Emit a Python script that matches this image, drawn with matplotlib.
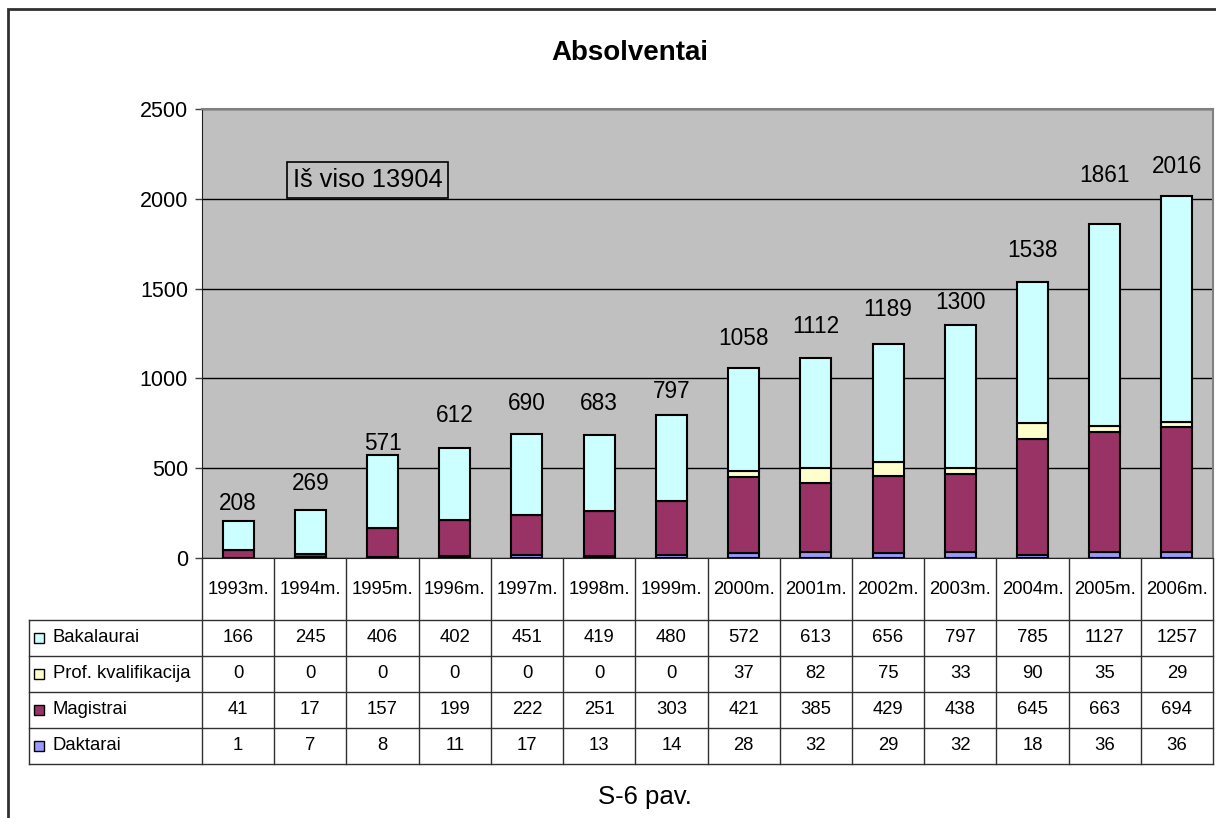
import numpy as np
import matplotlib.pyplot as plt
from matplotlib.patches import Rectangle

plt.rcParams['font.family'] = ['Liberation Sans', 'DejaVu Sans']

years = ['1993m.', '1994m.', '1995m.', '1996m.', '1997m.', '1998m.', '1999m.',
         '2000m.', '2001m.', '2002m.', '2003m.', '2004m.', '2005m.', '2006m.']
bakalaurai = [166, 245, 406, 402, 451, 419, 480, 572, 613, 656, 797, 785, 1127, 1257]
prof_kval = [0, 0, 0, 0, 0, 0, 0, 37, 82, 75, 33, 90, 35, 29]
magistrai = [41, 17, 157, 199, 222, 251, 303, 421, 385, 429, 438, 645, 663, 694]
daktarai = [1, 7, 8, 11, 17, 13, 14, 28, 32, 29, 32, 18, 36, 36]
series_names = ['Bakalaurai', 'Prof. kvalifikacija', 'Magistrai', 'Daktarai']
total_note = 'Iš viso 13904'

colors = ['#CCFFFF', '#FFFFCC', '#993366', '#9999FF']
# how far (px) each total label sits above its bar, as placed in the original
label_lift = [17, 26, 12, 33, 31, 32, 23, 29, 32, 35, 22, 31, 48, 29]

W, H = 1216, 818
fig = plt.figure(figsize=(W / 100, H / 100), dpi=100)


def box(l, t, r, b):
    return [l / W, 1 - b / H, (r - l) / W, (b - t) / H]


# outer chart frame (only left and top edges are visible in the crop)
fig.add_artist(Rectangle((8 / W, -0.2), 1.2, 1.2 - 9 / H, transform=fig.transFigure,
                         fill=False, edgecolor='#303030', lw=2))

ax = fig.add_axes(box(202, 109, 1213, 558))
ax.set_facecolor('#C0C0C0')
x = np.arange(len(years))
series = [bakalaurai, prof_kval, magistrai, daktarai]

bottom = np.zeros(len(years))
for vals, col in zip(series[::-1], colors[::-1]):
    ax.bar(x, vals, 0.43, bottom=bottom, color=col, edgecolor='black', lw=1.5, zorder=3)
    bottom += np.array(vals)
totals = bottom

for i, t in enumerate(totals):
    ax.annotate('%d' % t, (i, t), xytext=(0, label_lift[i] * 0.72), textcoords='offset points',
                ha='center', va='center', fontsize=16.3)

ax.set_xlim(-0.5, len(years) - 0.5)
ax.set_ylim(0, 2500)
ax.set_yticks(np.arange(0, 2501, 500))
ax.set_xticks([])
ax.yaxis.grid(True, color='black', lw=1, zorder=1)
ax.tick_params(axis='y', length=5, width=1, labelsize=15.5, pad=5, color='#404040')
ax.spines['left'].set_color('#202020')
ax.spines['bottom'].set_color('#202020')
for s in ['top', 'right']:
    ax.spines[s].set_color('#808080')
    ax.spines[s].set_linewidth(1.5)

ax.text(0.164, 0.842, total_note, transform=ax.transAxes, ha='center', va='center',
        fontsize=18.3, bbox=dict(boxstyle='square,pad=0.22', facecolor='none',
                                 edgecolor='black', lw=1.2))

# data table under the plot
colw = 1011 / len(years)
xl = -0.5 - (202 - 29) / colw
tax = fig.add_axes(box(29, 558, 1213, 764))
tax.set_xlim(xl, len(years) - 0.5)
tax.set_ylim(206, 0)
tax.axis('off')
lc = '#303030'
for k in range(len(years) + 1):
    tax.plot([k - 0.5, k - 0.5], [0, 206], color=lc, lw=1, clip_on=False)
tax.plot([xl, xl], [62, 206], color=lc, lw=1, clip_on=False)
for r in range(5):
    tax.plot([xl, len(years) - 0.5], [62 + 36 * r] * 2, color=lc, lw=1, clip_on=False)

for i, yr in enumerate(years):
    tax.text(i, 31, yr, ha='center', va='center', fontsize=13.3)

for r, (name, vals, col) in enumerate(zip(series_names, series, colors)):
    yc = 62 + 18 + 36 * r
    tax.plot(xl + 10 / colw, yc, 's', ms=7, mfc=col, mec='black', mew=1, clip_on=False)
    tax.text(xl + 24 / colw, yc, name, ha='left', va='center', fontsize=13.3)
    for i, v in enumerate(vals):
        tax.text(i, yc, '%d' % v, ha='center', va='center', fontsize=13.3)

fig.text(630 / W, 1 - 53 / H, 'Absolventai', ha='center', va='center',
         fontsize=20, fontweight='bold')
fig.text(645 / W, 1 - 797 / H, 'S-6 pav.', ha='center', va='center', fontsize=18.5)

fig.savefig('out.png', dpi=100)
